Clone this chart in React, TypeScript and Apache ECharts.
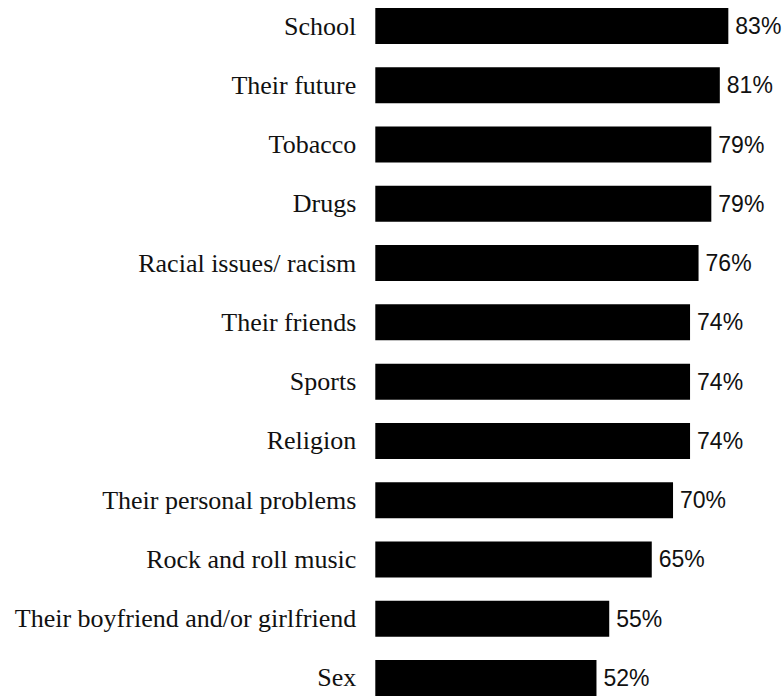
import React, { useEffect, useRef } from "react";
import * as echarts from "echarts";

const categories = [
  "School",
  "Their future",
  "Tobacco",
  "Drugs",
  "Racial issues/ racism",
  "Their friends",
  "Sports",
  "Religion",
  "Their personal problems",
  "Rock and roll music",
  "Their boyfriend and/or girlfriend",
  "Sex",
];
const values = [83, 81, 79, 79, 76, 74, 74, 74, 70, 65, 55, 52];

export default function App() {
  const ref = useRef<HTMLDivElement>(null);
  useEffect(() => {
    document.body.style.margin = "0";
    document.body.style.overflow = "hidden";
    document.documentElement.style.overflow = "hidden";
    const chart = echarts.init(ref.current!, null, { renderer: "svg" });
    chart.setOption({
      animation: false,
      backgroundColor: "#ffffff",
      grid: { left: 375.3, right: 24.9, top: 0.4, bottom: 0.4, containLabel: false },
      xAxis: {
        type: "value",
        min: 0,
        max: 90,
        show: false,
      },
      yAxis: {
        type: "category",
        data: categories,
        inverse: true,
        axisLine: { show: false },
        axisTick: { show: false },
        splitLine: { show: false },
        axisLabel: {
          margin: 19,
          color: "#111111",
          fontFamily: "Liberation Serif",
          fontSize: 26,
        },
      },
      series: [
        {
          type: "bar",
          data: values,
          barWidth: 36,
          itemStyle: { color: "#000000" },
          label: {
            show: true,
            position: "right",
            distance: 7,
            formatter: "{c}%",
            color: "#111111",
            fontFamily: "Liberation Sans",
            fontSize: 23,
          },
        },
      ],
    });
    return () => chart.dispose();
  }, []);
  return (
    <div
      ref={ref}
      style={{ position: "absolute", left: 0, top: -4, width: 783, height: 712 }}
    />
  );
}
